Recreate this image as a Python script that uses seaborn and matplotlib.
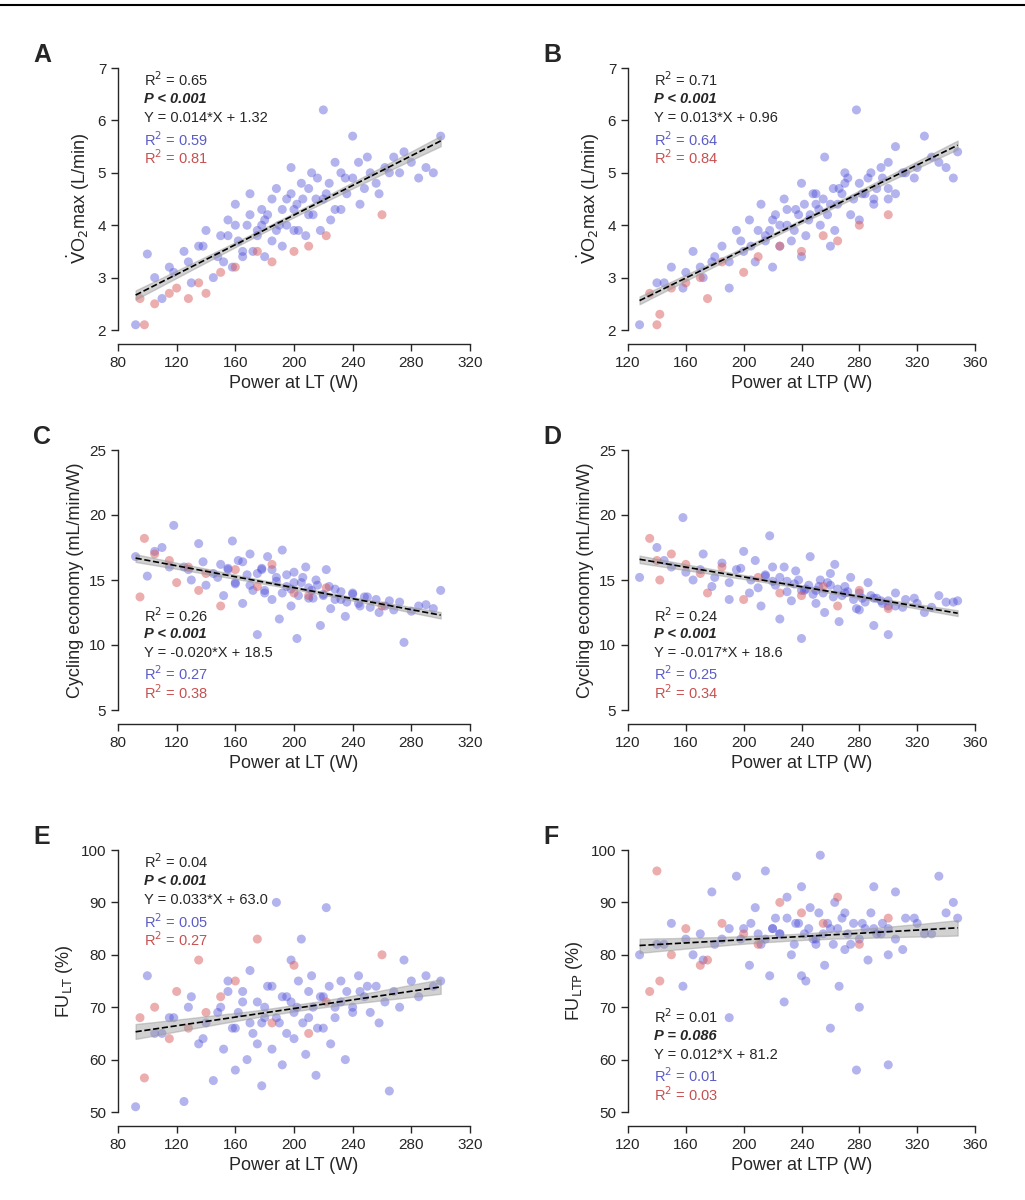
import matplotlib
matplotlib.use("Agg")
import matplotlib.pyplot as plt
import seaborn as sns
import numpy as np
import pandas as pd
from matplotlib.lines import Line2D

sns.set_theme(style="ticks")
plt.rcParams['font.family'] = ['Liberation Sans', 'DejaVu Sans']

# ---- data: power at LT (blue / red) ----
lt_blue = [92,100,110,118,125,130,135,140,145,150,152,155,158,160,162,165,168,170,172,175,178,180,182,185,188,190,192,195,198,200,202,205,208,210,212,215,218,220,222,225,228,232,235,240,245,250,258,265,275,290,
           105,115,128,138,148,155,160,165,170,175,180,185,188,192,195,198,200,203,206,210,213,216,220,224,228,232,236,240,244,248,252,256,262,268,272,280,285,295,300,178]
lt_red = [95,98,105,115,120,128,135,140,150,160,175,185,200,210,222,260]
# ---- power at LTP ----
ltp_blue = [128,140,150,158,165,172,178,185,190,195,200,204,208,212,215,218,222,225,228,230,233,236,240,243,246,250,253,256,260,263,266,270,274,278,282,286,290,295,300,305,310,318,325,335,345,260,240,220,280,300,
            145,160,170,180,190,198,205,210,215,220,225,230,235,238,242,245,248,252,255,258,262,265,268,272,276,280,284,288,292,296,300,305,312,320,330,340,348,250,270,290]
ltp_red = [135,140,142,150,160,170,175,185,200,210,225,240,255,265,280,300]

vo2_A_blue = [2.1,3.45,2.6,3.1,3.5,2.9,3.6,3.9,3.0,3.8,3.3,4.1,3.2,4.4,3.7,3.4,4.0,4.6,3.5,3.9,4.3,3.4,4.2,3.7,4.7,4.0,3.6,4.5,5.1,3.9,4.4,4.8,3.8,4.2,5.0,4.5,3.9,6.2,4.6,4.1,5.2,4.3,4.9,5.7,4.4,5.3,4.6,5.0,5.4,5.1,
              3.0,3.2,3.3,3.6,3.4,3.8,4.0,3.5,4.2,3.8,4.1,4.5,3.9,4.3,4.0,4.6,4.3,3.9,4.5,4.7,4.2,4.9,4.5,4.8,4.3,5.0,4.6,4.9,5.2,4.7,5.0,4.8,5.1,5.3,5.0,5.2,4.9,5.0,5.7,4.0]
vo2_A_red = [2.6,2.1,2.5,2.7,2.8,2.6,2.9,2.7,3.1,3.2,3.5,3.3,3.5,3.6,3.8,4.2]
vo2_B_blue = [2.1,2.9,3.2,2.8,3.5,3.0,3.3,3.6,2.8,3.9,3.5,4.1,3.3,4.4,3.7,3.9,4.2,3.6,4.5,4.0,3.7,4.3,4.8,3.8,4.2,4.6,4.0,5.3,4.4,3.9,4.7,5.0,4.2,6.2,4.6,4.9,4.4,5.1,4.7,5.5,5.0,4.9,5.7,5.2,4.9,3.6,3.4,3.2,4.1,4.5,
              2.9,3.1,3.2,3.4,3.3,3.7,3.6,3.9,3.8,4.1,4.0,4.3,3.9,4.2,4.4,4.1,4.6,4.3,4.5,4.2,4.7,4.4,4.6,4.9,4.5,4.8,4.6,5.0,4.7,4.9,5.2,4.6,5.0,5.1,5.3,5.1,5.4,4.4,4.8,4.5]
vo2_B_red = [2.7,2.1,2.3,2.8,2.9,3.0,2.6,3.3,3.1,3.4,3.6,3.5,3.8,3.7,4.0,4.2]

econ_C_blue = [16.8,15.3,17.5,19.2,16.0,15.0,17.8,14.6,15.5,16.2,13.8,15.9,18.0,14.8,16.5,13.2,15.4,17.0,14.2,10.8,15.8,14.0,16.8,13.5,15.2,12.0,17.3,14.5,13.0,15.6,10.5,14.8,16.0,13.6,14.2,15.0,11.5,13.8,15.8,12.8,14.3,13.5,12.2,14.0,13.0,13.7,12.5,13.4,10.2,13.1,
               17.2,16.0,15.8,16.4,15.2,15.8,14.7,16.4,14.6,15.5,14.2,15.8,14.9,14.0,15.4,14.3,14.8,13.8,15.2,14.4,13.6,14.6,13.9,14.5,13.5,14.1,13.3,13.9,13.2,13.7,12.9,13.5,13.0,12.7,13.3,12.6,13.0,12.8,14.2,15.9]
econ_C_red = [13.7,18.2,17.0,16.5,14.8,16.0,14.2,15.5,13.0,15.8,14.5,16.2,14.0,13.8,14.4,13.0]
econ_D_blue = [15.2,17.5,16.0,19.8,15.0,17.0,14.5,16.3,13.5,15.8,17.2,14.0,16.5,13.0,15.3,18.4,14.6,12.0,16.0,14.9,13.4,15.7,10.5,14.3,16.8,13.2,15.0,12.5,14.6,16.2,11.8,14.0,15.2,12.8,13.6,14.8,11.5,13.4,10.8,14.0,12.9,13.6,12.5,13.8,13.3,15.5,14.2,16.0,12.7,13.0,
               16.5,15.6,15.8,15.2,14.8,15.9,15.0,14.4,15.4,14.9,15.2,14.1,14.7,15.0,14.2,14.6,13.9,14.5,14.0,14.8,13.7,14.3,13.8,14.1,13.5,14.0,13.3,13.8,13.6,13.2,13.4,13.0,13.5,13.2,12.9,13.3,13.4,14.2,14.5,13.6]
econ_D_red = [18.2,16.5,15.0,17.0,16.2,15.5,14.0,16.0,13.5,15.2,14.0,13.8,14.5,13.0,14.2,12.8]

fu_E_blue = [51,76,65,68,52,72,63,67,56,70,62,75,66,58,69,73,60,77,65,71,55,68,74,62,90,67,59,72,79,64,70,83,61,68,76,57,72,66,89,63,70,75,60,69,73,74,67,54,79,76,
             65,68,70,64,69,73,66,71,67,63,70,74,68,72,65,71,69,75,67,73,70,66,72,74,68,71,73,70,76,72,69,74,71,73,70,75,72,74,75,67]
fu_E_red = [68,56.5,70,64,73,66,79,69,72,75,83,67,78,65,71,80]
fu_F_blue = [80,82,86,74,80,79,92,83,68,95,85,78,89,82,96,76,87,84,71,91,80,86,93,75,89,83,99,78,85,90,74,88,82,58,86,79,93,84,80,92,81,87,84,95,90,66,76,85,70,59,
             82,83,84,82,85,83,86,84,83,85,84,87,82,86,84,85,83,88,84,86,82,85,87,84,86,83,85,88,84,86,85,83,87,86,84,88,87,82,81,85]
fu_F_red = [73,96,75,80,85,78,79,86,84,82,90,88,86,91,82,87]

BLUE = '#4a4ad8'
RED = '#d95c5c'
BLUE_T = '#5b5bc8'
RED_T = '#c85050'

W, H = 1025, 1200
fig = plt.figure(figsize=(W/100, H/100), dpi=100)
fig.add_artist(Line2D([0, 1], [0.996, 0.996], color='black', lw=1.5))

LT_XT = [80,120,160,200,240,280,320]
LTP_XT = [120,160,200,240,280,320,360]

panels = [
    ('A', [118,68,470,330], lt_blue, vo2_A_blue, lt_red, vo2_A_red, LT_XT, [2,3,4,5,6,7], 'Power at LT (W)', r'$\dot{\rm V}$O$_2$max (L/min)',
     ['0.65','P < 0.001','Y = 0.014*X + 1.32','0.59','0.81'], 'top'),
    ('B', [628,68,975,330], ltp_blue, vo2_B_blue, ltp_red, vo2_B_red, LTP_XT, [2,3,4,5,6,7], 'Power at LTP (W)', r'$\dot{\rm V}$O$_2$max (L/min)',
     ['0.71','P < 0.001','Y = 0.013*X + 0.96','0.64','0.84'], 'top'),
    ('C', [118,450,470,710], lt_blue, econ_C_blue, lt_red, econ_C_red, LT_XT, [5,10,15,20,25], 'Power at LT (W)', 'Cycling economy (mL/min/W)',
     ['0.26','P < 0.001','Y = -0.020*X + 18.5','0.27','0.38'], 'bottom'),
    ('D', [628,450,975,710], ltp_blue, econ_D_blue, ltp_red, econ_D_red, LTP_XT, [5,10,15,20,25], 'Power at LTP (W)', 'Cycling economy (mL/min/W)',
     ['0.24','P < 0.001','Y = -0.017*X + 18.6','0.25','0.34'], 'bottom'),
    ('E', [118,850,470,1112], lt_blue, fu_E_blue, lt_red, fu_E_red, LT_XT, [50,60,70,80,90,100], 'Power at LT (W)', r'FU$_{\rm LT}$ (%)',
     ['0.04','P < 0.001','Y = 0.033*X + 63.0','0.05','0.27'], 'top'),
    ('F', [628,850,975,1112], ltp_blue, fu_F_blue, ltp_red, fu_F_red, LTP_XT, [50,60,70,80,90,100], 'Power at LTP (W)', r'FU$_{\rm LTP}$ (%)',
     ['0.01','P = 0.086','Y = 0.012*X + 81.2','0.01','0.03'], 'bottom'),
]

for (lab, box, xb, yb, xr, yr, xt, yt, xl, yl, txt, pos) in panels:
    x0, y0, x1, y1 = box
    ax = fig.add_axes([x0/W, 1-y1/H, (x1-x0)/W, (y1-y0)/H])
    ax.scatter(xb, yb, s=42, color=BLUE, alpha=0.42, edgecolors='none', zorder=2)
    ax.scatter(xr, yr, s=42, color=RED, alpha=0.5, edgecolors='none', zorder=2)
    df = pd.DataFrame({'x': list(xb)+list(xr), 'y': list(yb)+list(yr)})
    sns.regplot(data=df, x='x', y='y', scatter=False, ax=ax, color='black', truncate=True, ci=68,
                line_kws=dict(ls='--', lw=1.2, zorder=4))
    for c in ax.collections[-1:]:
        c.set_color('#999999'); c.set_alpha(0.45); c.set_zorder(3)
    ax.set_xlim(xt[0], xt[-1]); ax.set_ylim(yt[0], yt[-1])
    ax.set_xticks(xt); ax.set_yticks(yt)
    ax.set_xlabel(xl, fontsize=13); ax.set_ylabel(yl, fontsize=13)
    ax.tick_params(labelsize=11, length=5, width=1)
    sns.despine(ax=ax, offset={'bottom': 10, 'left': 0})
    ax.spines['left'].set_linewidth(1); ax.spines['bottom'].set_linewidth(1)
    fig.text((x0-85)/W, 1-(y0-25)/H, lab, fontsize=18, fontweight='bold', va='top')
    ystart = 0.99 if pos == 'top' else 0.40
    step = 0.072
    tx = 0.075
    ax.text(tx, ystart, r'R$^2$ = ' + txt[0], transform=ax.transAxes, fontsize=10.5, va='top')
    ax.text(tx, ystart-step-0.01, txt[1], transform=ax.transAxes, fontsize=10.5, va='top', fontweight='bold', fontstyle='italic')
    ax.text(tx, ystart-2*step-0.01, txt[2], transform=ax.transAxes, fontsize=10.5, va='top')
    ax.text(tx, ystart-3*step-0.01, r'R$^2$ = ' + txt[3], transform=ax.transAxes, fontsize=10.5, va='top', color=BLUE_T)
    ax.text(tx, ystart-4*step-0.01, r'R$^2$ = ' + txt[4], transform=ax.transAxes, fontsize=10.5, va='top', color=RED_T)

fig.savefig('out.png', dpi=100)
